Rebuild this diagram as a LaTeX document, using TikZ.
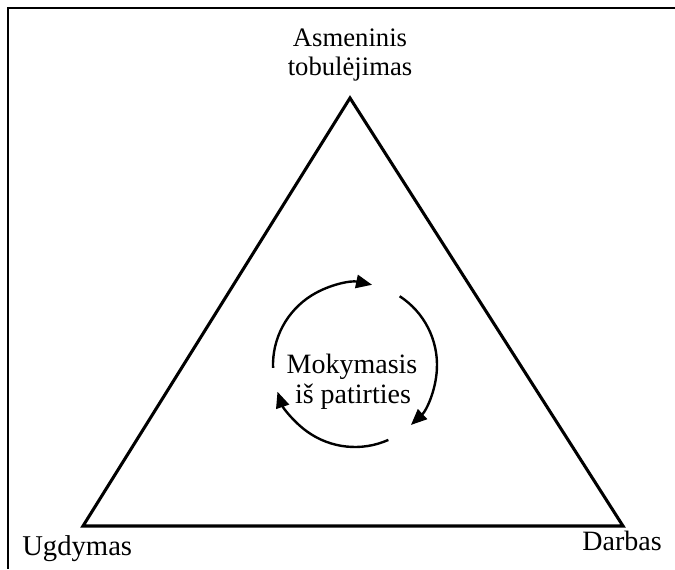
\documentclass[tikz,border=0pt]{standalone}
\usepackage{fontspec}
\setmainfont{Liberation Serif}
\usetikzlibrary{arrows.meta}
\begin{document}
\begin{tikzpicture}[x=0.75pt,y=0.75pt,
  lbl/.style={inner sep=0pt,anchor=base,font=\fontsize{20pt}{24pt}\selectfont},
  mid/.style={inner sep=0pt,anchor=base,font=\fontsize{21pt}{25pt}\selectfont},
  edge/.style={line width=2.3pt,line join=miter},
  cyc/.style={line width=1.8pt,-{Triangle[length=12pt,width=10pt]}}]
\useasboundingbox (0,0) rectangle (675,569);
% frame
\draw[line width=1.5pt] (7.5,561) -- (675,561);
\draw[line width=0.8pt] (8,561.7) -- (8,0);
% triangle corners
\coordinate (top) at (350,471);
\coordinate (bl) at (83,43);
\coordinate (br) at (623,43);
\draw[edge] (top) -- (bl) -- (br) -- cycle;
% corner labels
\node[lbl] (a1) at (350,522) {Asmeninis};
\node[lbl] (a2) at (350,493) {tobulėjimas};
\node[lbl,font=\fontsize{21.5pt}{25pt}\selectfont,anchor=base west] (u) at (22,14) {Ugdymas};
\node[lbl,font=\fontsize{21pt}{25pt}\selectfont,anchor=base east] (d) at (662,19) {Darbas};
% centre text
\node[mid] (m1) at (352,196) {Mokymasis};
\node[mid] (m2) at (353,166) {iš patirties};
% cycle arrows
\coordinate (c) at (355,204);
\draw[cyc] ([shift={(182:82)}]c) arc[start angle=182,end angle=78,radius=82];
\draw[cyc] ([shift={(57:82)}]c) arc[start angle=57,end angle=-47,radius=82];
\draw[cyc] ([shift={(-66:82)}]c) arc[start angle=-66,end angle=-161,radius=82];
\end{tikzpicture}
\end{document}
